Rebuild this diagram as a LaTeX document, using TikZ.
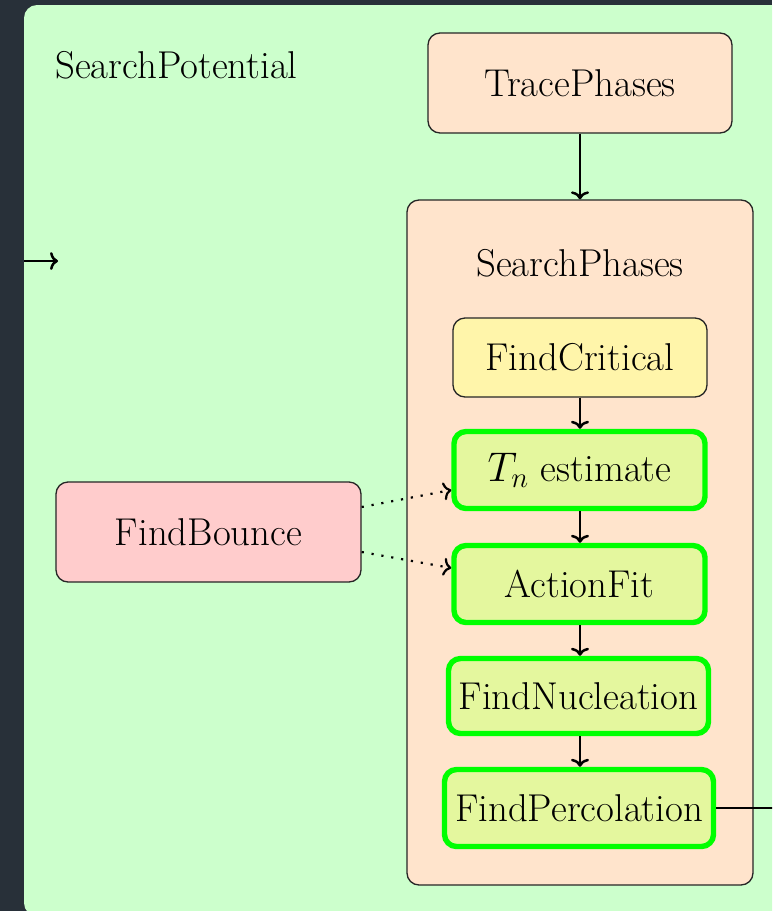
\documentclass[tikz,border=0pt]{standalone}
\usetikzlibrary{arrows.meta}
\definecolor{pagebg}{HTML}{283039}
\definecolor{potfill}{HTML}{CCFFCC}
\definecolor{peach}{HTML}{FFE4CC}
\definecolor{pinkfill}{HTML}{FFCCCC}
\definecolor{yellowfill}{HTML}{FFF5AA}
\definecolor{limefill}{HTML}{E4F79E}
\definecolor{brightgreen}{HTML}{00FF00}
\tikzset{
  box/.style={draw=black!85, line width=0.65pt, rounded corners=6pt,
    inner sep=0pt, align=center},
  stage/.style={box, fill=limefill, draw=brightgreen, line width=2.7pt},
  flow/.style={line width=1.25pt, -{To[length=4pt,width=9pt]}},
  feed/.style={line width=1.1pt, dash pattern=on 1.1pt off 3.9pt,
    -{To[length=4pt,width=9pt]}},
}
\begin{document}
\begin{tikzpicture}[x=0.5pt, y=-0.5pt, font=\fontsize{19.4}{23}\selectfont]
  \clip (0,0) rectangle (772,911);
  \fill[pagebg] (0,0) rectangle (772,911);
  % outer SearchPotential region
  \fill[potfill, rounded corners=6.5pt] (24,5) rectangle (820,916);
  \node[anchor=base west, inner sep=0pt] (potlabel) at (55,78) {SearchPotential};

  % TracePhases
  \node[box, fill=peach, minimum width=152pt, minimum height=50pt]
    (trace) at (580,83) {TracePhases};

  % SearchPhases container
  \node[box, fill=peach, minimum width=173pt, minimum height=342.5pt]
    (phases) at (580,542.5) {};
  \node (phaseslabel) at (580,263) {SearchPhases};

  % stages inside SearchPhases
  \node[box, fill=yellowfill, minimum width=127pt, minimum height=39.5pt]
    (crit) at (580,357.5) {FindCritical};
  \node[stage, minimum width=125.5pt, minimum height=38.5pt]
    (tn) at (579.5,470) {$T_n$ estimate};
  \node[stage, minimum width=125.5pt, minimum height=38.5pt]
    (fit) at (579.5,584) {ActionFit};
  \node[stage, minimum width=130pt, minimum height=37.5pt]
    (nuc) at (578.5,696) {FindNucleation};
  \node[stage, minimum width=134.5pt, minimum height=38.5pt]
    (perc) at (579,808) {FindPercolation};

  % FindBounce
  \node[box, fill=pinkfill, minimum width=152.5pt, minimum height=50pt]
    (bounce) at (208.5,532) {FindBounce};

  % free ends
  \coordinate (inlet) at (24,261);
  \coordinate (inletend) at (58,261);
  \coordinate (outlet) at (800,808);

  % connectors
  \draw[flow] (trace.south) -- (phases.north);
  \draw[flow] (crit.south) -- (crit.south |- tn.north);
  \draw[flow] (crit.south |- tn.south) -- (crit.south |- fit.north);
  \draw[flow] (crit.south |- fit.south) -- (crit.south |- nuc.north);
  \draw[flow] (crit.south |- nuc.south) -- (crit.south |- perc.north);
  \draw[feed] ([yshift=12.5pt]bounce.east) -- ([yshift=-10pt]tn.west);
  \draw[feed] ([yshift=-10pt]bounce.east) -- ([yshift=8pt]fit.west);
  \draw[flow] (inlet) -- (inletend);
  \draw[line width=1.25pt] (perc.east) -- (outlet);
\end{tikzpicture}
\end{document}
